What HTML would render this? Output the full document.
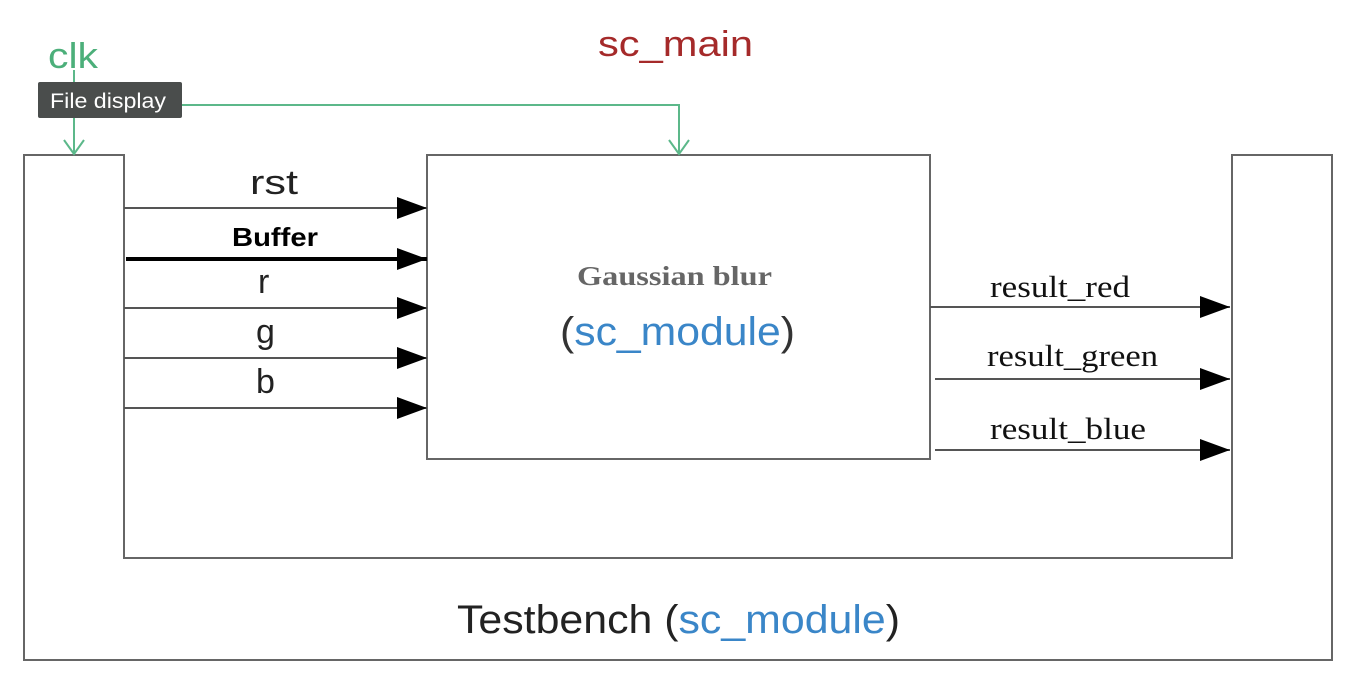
<!DOCTYPE html>
<html><head><style>body{margin:0;background:#fff;width:1350px;height:688px;overflow:hidden}</style></head><body>
<svg width="1350" height="688" xmlns="http://www.w3.org/2000/svg">
<defs>
<marker id="a" markerWidth="32" markerHeight="24" refX="30" refY="11" orient="auto" markerUnits="userSpaceOnUse"><path d="M0,0 L30,11 L0,22 Z" fill="#000"/></marker>
</defs>
<g fill="none" stroke="#666" stroke-width="2">
<path d="M24,155 H124 V558 H1232 V155 H1332 V660 H24 Z"/>
<rect x="427" y="155" width="503" height="304"/>
</g>
<g stroke="#555" stroke-width="2" marker-end="url(#a)">
<line x1="124" y1="208" x2="427" y2="208"/>
<line x1="124" y1="308" x2="427" y2="308"/>
<line x1="124" y1="358" x2="427" y2="358"/>
<line x1="124" y1="408" x2="427" y2="408"/>
<line x1="930" y1="307" x2="1230" y2="307"/>
<line x1="935" y1="379" x2="1230" y2="379"/>
<line x1="935" y1="450" x2="1230" y2="450"/>
</g>
<line x1="126" y1="259" x2="427" y2="259" stroke="#000" stroke-width="4" marker-end="url(#a)"/>
<g stroke="#5cb88a" stroke-width="2" fill="none">
<path d="M74,70 V154 M64,140 L74,154 L84,140"/>
<path d="M74,105 H679 V154 M669,140 L679,154 L689,140"/>
</g>
<rect x="38" y="82" width="144" height="36" fill="#4a4d4c" rx="2"/>
<g font-family="Liberation Sans, sans-serif">
<text x="50" y="108" font-size="21" fill="#fff" textLength="116" lengthAdjust="spacingAndGlyphs">File display</text>
<text x="48" y="68" font-size="36" fill="#4caf7a" textLength="50" lengthAdjust="spacingAndGlyphs">clk</text>
<text x="598" y="56" font-size="36" fill="#a52a2a" textLength="155" lengthAdjust="spacingAndGlyphs">sc_main</text>
<text x="250" y="194" font-size="34" fill="#222" textLength="48" lengthAdjust="spacingAndGlyphs">rst</text>
<text x="232" y="246" font-size="26" font-weight="bold" fill="#000" textLength="86" lengthAdjust="spacingAndGlyphs">Buffer</text>
<text x="258" y="293" font-size="34" fill="#222">r</text>
<text x="256" y="343" font-size="34" fill="#222">g</text>
<text x="256" y="393" font-size="34" fill="#222">b</text>
<text x="560" y="345" font-size="40" fill="#333" textLength="235" lengthAdjust="spacingAndGlyphs">(<tspan fill="#3a86c8">sc_module</tspan>)</text>
<text x="457" y="633" font-size="40" fill="#222" textLength="443" lengthAdjust="spacingAndGlyphs">Testbench (<tspan fill="#3a86c8">sc_module</tspan>)</text>
</g>
<g font-family="Liberation Serif, serif">
<text x="577" y="285" font-size="27" font-weight="bold" fill="#666" textLength="195" lengthAdjust="spacingAndGlyphs">Gaussian blur</text>
<text x="990" y="297" font-size="31" fill="#111" textLength="140" lengthAdjust="spacingAndGlyphs">result_red</text>
<text x="987" y="366" font-size="31" fill="#111" textLength="171" lengthAdjust="spacingAndGlyphs">result_green</text>
<text x="990" y="439" font-size="31" fill="#111" textLength="156" lengthAdjust="spacingAndGlyphs">result_blue</text>
</g>
</svg>
</body></html>
